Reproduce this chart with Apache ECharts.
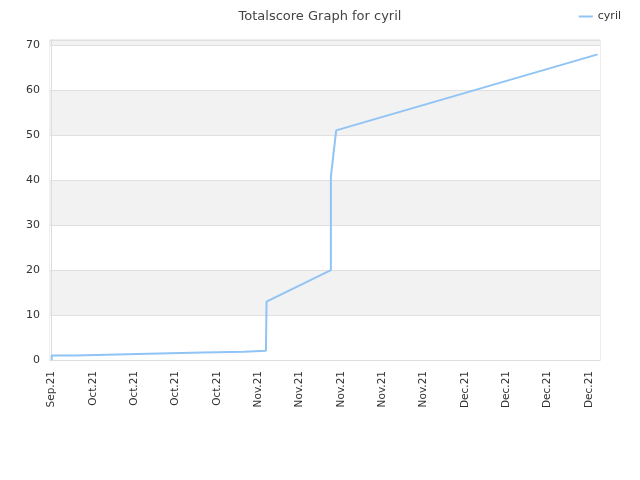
<!DOCTYPE html>
<html><head><meta charset="utf-8">
<script src="https://cdn.jsdelivr.net/npm/echarts@6/dist/echarts.min.js"></script>
<style>html,body{margin:0;padding:0;background:#fff}#c{width:640px;height:480px}</style>
</head><body><div id="c"></div>
<script>
// x in days since first tick (Sep 27, 2021)
const tickDays = [0,7,14,21,28,35,42,49,56,63,70,77,84,91];
const tickLabels = ["Sep.21","Oct.21","Oct.21","Oct.21","Oct.21","Nov.21","Nov.21","Nov.21","Nov.21","Nov.21","Dec.21","Dec.21","Dec.21","Dec.21"];
const xDays  = [0,   0,   4.0, 4.0, 11.1, 11.1, 18.2, 18.2, 25.5, 25.5, 32.6, 32.6, 36.3, 36.4, 47.3, 47.3, 48.2, 92.5];
const scores = [0,   1.0, 1.0, 1.25,1.25, 1.45, 1.45, 1.65, 1.65, 1.85, 1.85, 2.05, 2.05, 13.0, 20.0, 40.8, 51.1, 68.0];
const seriesName = "cyril";

const chart = echarts.init(document.getElementById('c'), null, {renderer:'canvas'});
chart.setOption({
  animation:false,
  backgroundColor:'#fff',
  title:{text:'Totalscore Graph for cyril', left:'center', top:5,
    textStyle:{fontSize:13, fontWeight:'normal', color:'#444', fontFamily:'DejaVu Sans'}},
  legend:{right:14, top:6, itemWidth:14, itemHeight:2, icon:'rect',
    textStyle:{fontSize:11, color:'#333', fontFamily:'DejaVu Sans'}, data:[seriesName]},
  grid:{left:50, right:40, top:40, bottom:120, show:true, borderColor:'#ddd', borderWidth:1},
  xAxis:{type:'value', min:-0.29, max:92.9,
    axisLine:{show:true, lineStyle:{color:'#ddd'}},
    axisTick:{show:false},
    splitLine:{show:false},
    axisLabel:{customValues:tickDays, rotate:90, fontSize:10.5, color:'#333', fontFamily:'DejaVu Sans', margin:11,
      formatter:function(v){const i=tickDays.indexOf(Math.round(v)); return i>=0?tickLabels[i]:'';}}
  },
  yAxis:{type:'value', min:0, max:71.2, interval:10,
    axisLine:{show:true, lineStyle:{color:'#ddd'}},
    axisTick:{show:false},
    axisLabel:{fontSize:11, color:'#333', fontFamily:'DejaVu Sans', margin:10, showMaxLabel:false,
      formatter:function(v){return (v%10===0)?String(v):'';}},
    splitLine:{show:true, lineStyle:{color:'#e0e0e0'}},
    splitArea:{show:true, areaStyle:{color:['#ffffff','#f2f2f2']}}
  },
  series:[{name:seriesName, type:'line', showSymbol:false, symbol:'none',
    data:xDays.map((d,i)=>[d,scores[i]]),
    lineStyle:{color:'#90c4f5', width:2}, itemStyle:{color:'#90c4f5'}}]
});
</script></body></html>
